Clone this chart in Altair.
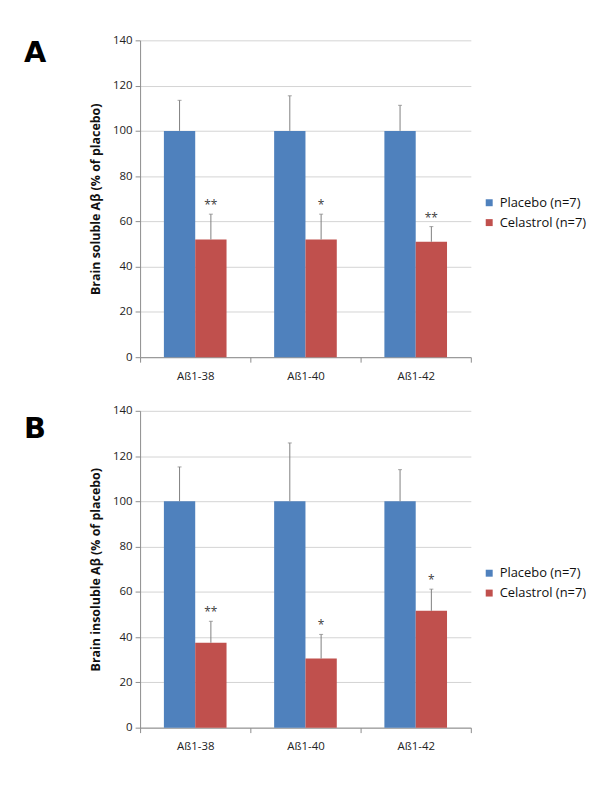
import altair as alt
import pandas as pd

groups = ["Aß1-38", "Aß1-40", "Aß1-42"]
series = ["Placebo (n=7)", "Celastrol (n=7)"]
colors = ["#4F81BD", "#C0504D"]

sol_placebo = [100, 100, 100]
sol_placebo_upper = [113.5, 115.5, 111.3]
sol_cel = [52, 52, 51]
sol_cel_upper = [63.2, 63.2, 57.7]
sol_stars = ["**", "*", "**"]

ins_placebo = [100, 100, 100]
ins_placebo_upper = [115.2, 125.8, 114.0]
ins_cel = [37.5, 30.5, 51.6]
ins_cel_upper = [47.0, 41.2, 61.2]
ins_stars = ["**", "*", "*"]


def make_df(pl, pl_up, ce, ce_up, stars):
    rows = []
    for i, g in enumerate(groups):
        rows.append({"group": g, "series": series[0], "value": pl[i], "upper": pl_up[i], "star": ""})
        rows.append({"group": g, "series": series[1], "value": ce[i], "upper": ce_up[i], "star": stars[i]})
    return pd.DataFrame(rows)


def panel(df, letter, ytitle, letter_y):
    base = alt.Chart(df).encode(
        x=alt.X("group:N", sort=groups,
                scale=alt.Scale(paddingInner=0, paddingOuter=0),
                axis=alt.Axis(title=None, tickBand="extent", labelAngle=0,
                              domainColor="#8C8C8C", tickColor="#8C8C8C", tickSize=5,
                              labelPadding=8, labelFontSize=11.5, labelColor="#222222",
                              labelFont="Open Sans")),
        xOffset=alt.XOffset("series:N", sort=series,
                            scale=alt.Scale(domain=series, paddingOuter=0.76, paddingInner=0)),
    )
    bars = base.mark_bar().encode(
        y=alt.Y("value:Q", scale=alt.Scale(domain=[0, 140]),
                axis=alt.Axis(title=ytitle, values=[0, 20, 40, 60, 80, 100, 120, 140],
                              grid=True, gridColor="#D4D4D4", domainColor="#8C8C8C",
                              tickColor="#8C8C8C", tickSize=5, labelPadding=3,
                              labelFontSize=11.5, labelColor="#222222", labelFont="Open Sans",
                              titleFont="Open Sans", titleFontSize=12.5, titleFontWeight="bold",
                              titleColor="#111111", titlePadding=10)),
        color=alt.Color("series:N", sort=series,
                        scale=alt.Scale(domain=series, range=colors),
                        legend=alt.Legend(title=None, orient="none", legendX=345, legendY=157,
                                          symbolType="square", symbolSize=49,
                                          symbolStrokeWidth=0, labelFontSize=13,
                                          labelFont="Open Sans", labelColor="#111111",
                                          rowPadding=6, labelOffset=4)),
    )
    err = base.mark_rule(color="#808080", strokeWidth=1).encode(
        y="value:Q", y2="upper:Q")
    cap = base.mark_tick(color="#808080", size=4, thickness=1, orient="horizontal").encode(
        y="upper:Q")
    stars = base.mark_text(color="#404040", fontSize=12, dy=-9, baseline="middle",
                           font="Open Sans").encode(y="upper:Q", text="star:N")
    lab = alt.Chart(pd.DataFrame({"t": [letter]})).mark_text(
        font="DejaVu Sans", fontWeight="bold", fontSize=29, align="left",
        baseline="middle", color="#000000").encode(
        x=alt.value(-117), y=alt.value(letter_y), text="t:N")
    return alt.layer(bars, err, cap, stars, lab).properties(width=333, height=319)


dfA = make_df(sol_placebo, sol_placebo_upper, sol_cel, sol_cel_upper, sol_stars)
dfB = make_df(ins_placebo, ins_placebo_upper, ins_cel, ins_cel_upper, ins_stars)

chartA = panel(dfA, "A", "Brain soluble Aβ (% of placebo)", 13)
chartB = panel(dfB, "B", "Brain insoluble Aβ (% of placebo)", 18)

chart = alt.vconcat(chartA, chartB, spacing=23).resolve_scale(
    color="independent", x="independent", y="independent", xOffset="independent"
).resolve_legend(color="independent").properties(
    padding={"left": 16, "top": 24, "right": 5, "bottom": 5}
).configure_view(stroke=None)

chart.save("out.html", embed_options={"renderer": "svg", "actions": False})
